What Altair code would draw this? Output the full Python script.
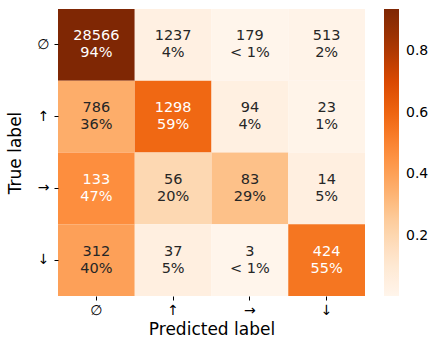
import altair as alt
import pandas as pd

labels = ["∅", "↑", "→", "↓"]
counts_empty = [28566, 1237, 179, 513]
counts_up = [786, 1298, 94, 23]
counts_right = [133, 56, 83, 14]
counts_down = [312, 37, 3, 424]
rows = [counts_empty, counts_up, counts_right, counts_down]

oranges = ["#fff5eb", "#fee6ce", "#fdd0a2", "#fdae6b", "#fd8d3c",
           "#f16913", "#d94801", "#a63603", "#7f2704"]

records = []
for ti, row in enumerate(rows):
    total = sum(row)
    for pi, c in enumerate(row):
        frac = c / total
        pct = "< 1%" if frac < 0.01 else f"{round(frac * 100)}%"
        records.append({
            "true": labels[ti],
            "pred": labels[pi],
            "count": c,
            "frac": frac,
            "text": f"{c}\n{pct}",
        })
df = pd.DataFrame(records)
fmin, fmax = df["frac"].min(), df["frac"].max()

FONT = "DejaVu Sans"

base = alt.Chart(df).encode(
    x=alt.X("pred:N", sort=labels, title="Predicted label",
            axis=alt.Axis(labelAngle=0, domain=False, tickSize=4, tickColor="#000",
                          labelFontSize=14, titleFontSize=17, labelPadding=3,
                          titlePadding=4, labelColor="#000", titleColor="#000",
                          titleFontWeight="normal")),
    y=alt.Y("true:N", sort=labels, title="True label",
            axis=alt.Axis(labelAngle=0, domain=False, tickSize=4, tickColor="#000",
                          labelFontSize=14, titleFontSize=17, labelPadding=5,
                          titlePadding=12, labelColor="#000", titleColor="#000",
                          titleFontWeight="normal")),
)

rect = base.mark_rect(strokeWidth=0).encode(
    color=alt.Color("frac:Q",
                    scale=alt.Scale(range=oranges, interpolate="rgb",
                                    domain=[fmin, fmax]),
                    legend=alt.Legend(title=None, orient="right", offset=19,
                                      gradientLength=287, gradientThickness=15,
                                      values=[0.2, 0.4, 0.6, 0.8], format=".1f",
                                      labelFontSize=14, labelOffset=7,
                                      labelColor="#000", gradientStrokeWidth=0,
                                      direction="vertical"))
)

text = base.mark_text(lineBreak="\n", lineHeight=17, fontSize=14.5,
                      baseline="middle", dy=-8.5).encode(
    text="text:N",
    color=alt.condition(alt.datum.frac > 0.45, alt.value("#ffffff"), alt.value("#262626")),
)

chart = (rect + text).properties(
    width=307, height=287,
    autosize=alt.AutoSizeParams(type="none"),
    padding={"left": 58, "top": 9, "right": 66, "bottom": 42},
).configure(font=FONT).configure_view(stroke=None).configure_scale(bandPaddingInner=0)

chart.save("out.html", embed_options={"renderer": "svg", "actions": False})
